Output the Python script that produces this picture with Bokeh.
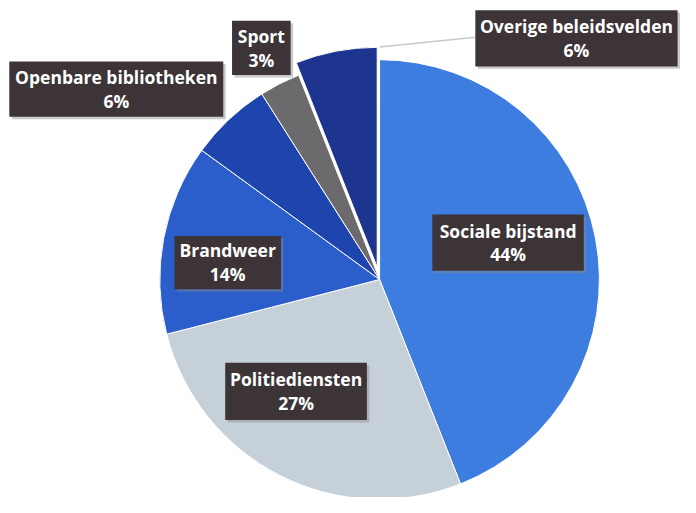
import math
from bokeh.plotting import figure
from bokeh.models import Range1d
from bokeh.core.properties import value
from bokeh.embed import file_html
from bokeh.resources import INLINE

# Data
categories = ["Sociale bijstand", "Politiediensten", "Brandweer",
              "Openbare bibliotheken", "Sport", "Overige beleidsvelden"]
shares = [44, 27, 14, 6, 3, 6]
pct_labels = ["44%", "27%", "14%", "6%", "3%", "6%"]
colors = ["#3c7ddf", "#c6d0d8", "#2b5dcb", "#1e44ae", "#6d6a6e", "#1d358e"]
exploded = [0, 0, 0, 0, 0, 13]

# Layout (reference pixel coordinates; y measured from the top)
CX, CY, R = 388, 288, 225
label_boxes = [  # (left, top, right, bottom)
    (442, 221, 597, 279),
    (230, 374, 375, 433),
    (178, 243, 287, 298),
    (9, 63, 228, 120),
    (237, 21, 297, 77),
    (486, 10, 693, 68),
]
W, H = 696, 513

def fy(y):
    return H - y

p = figure(width=680, height=497, output_backend="svg", toolbar_location=None,
           x_range=Range1d(0, W), y_range=Range1d(0, H), min_border=0)
p.axis.visible = False
p.grid.visible = False
p.outline_line_color = None
p.background_fill_color = "white"
p.border_fill_color = "white"

total = float(sum(shares))
cum = 0.0
for cat, s, col, ex in zip(categories, shares, colors, exploded):
    a0 = math.pi / 2 - 2 * math.pi * cum / total
    a1 = math.pi / 2 - 2 * math.pi * (cum + s) / total
    mid = (a0 + a1) / 2
    cx = CX + ex * math.cos(mid)
    cy = fy(CY) + ex * math.sin(mid)
    p.wedge(x=[cx], y=[cy], radius=R, start_angle=a0, end_angle=a1,
            direction="clock", fill_color=col, line_color="white", line_width=1)
    cum += s

# leader line for exploded slice
p.line(x=[388, 486], y=[fy(48), fy(38)], line_color="#c8c8c8", line_width=1.5)

for cat, pct, (l, t, r, b) in zip(categories, pct_labels, label_boxes):
    xc = (l + r) / 2
    yc = (t + b) / 2
    w = r - l
    h = b - t
    p.rect(x=[xc + 2.5], y=[fy(yc) - 2.5], width=w, height=h,
           fill_color="#8a8a8a", fill_alpha=0.45, line_color=None)
    p.rect(x=[xc], y=[fy(yc)], width=w, height=h,
           fill_color="#3c3437", line_color=None)
    p.text(x=[xc], y=[fy(yc) + 12.5], text=[cat], text_align="center",
           text_baseline="middle", text_color="white", text_font_size="17.5px",
           text_font=value("Open Sans"), text_font_style="bold")
    p.text(x=[xc], y=[fy(yc) - 12], text=[pct], text_align="center",
           text_baseline="middle", text_color="white", text_font_size="17.5px",
           text_font=value("Open Sans"), text_font_style="bold")

open("out.html", "w").write(file_html(p, INLINE))
